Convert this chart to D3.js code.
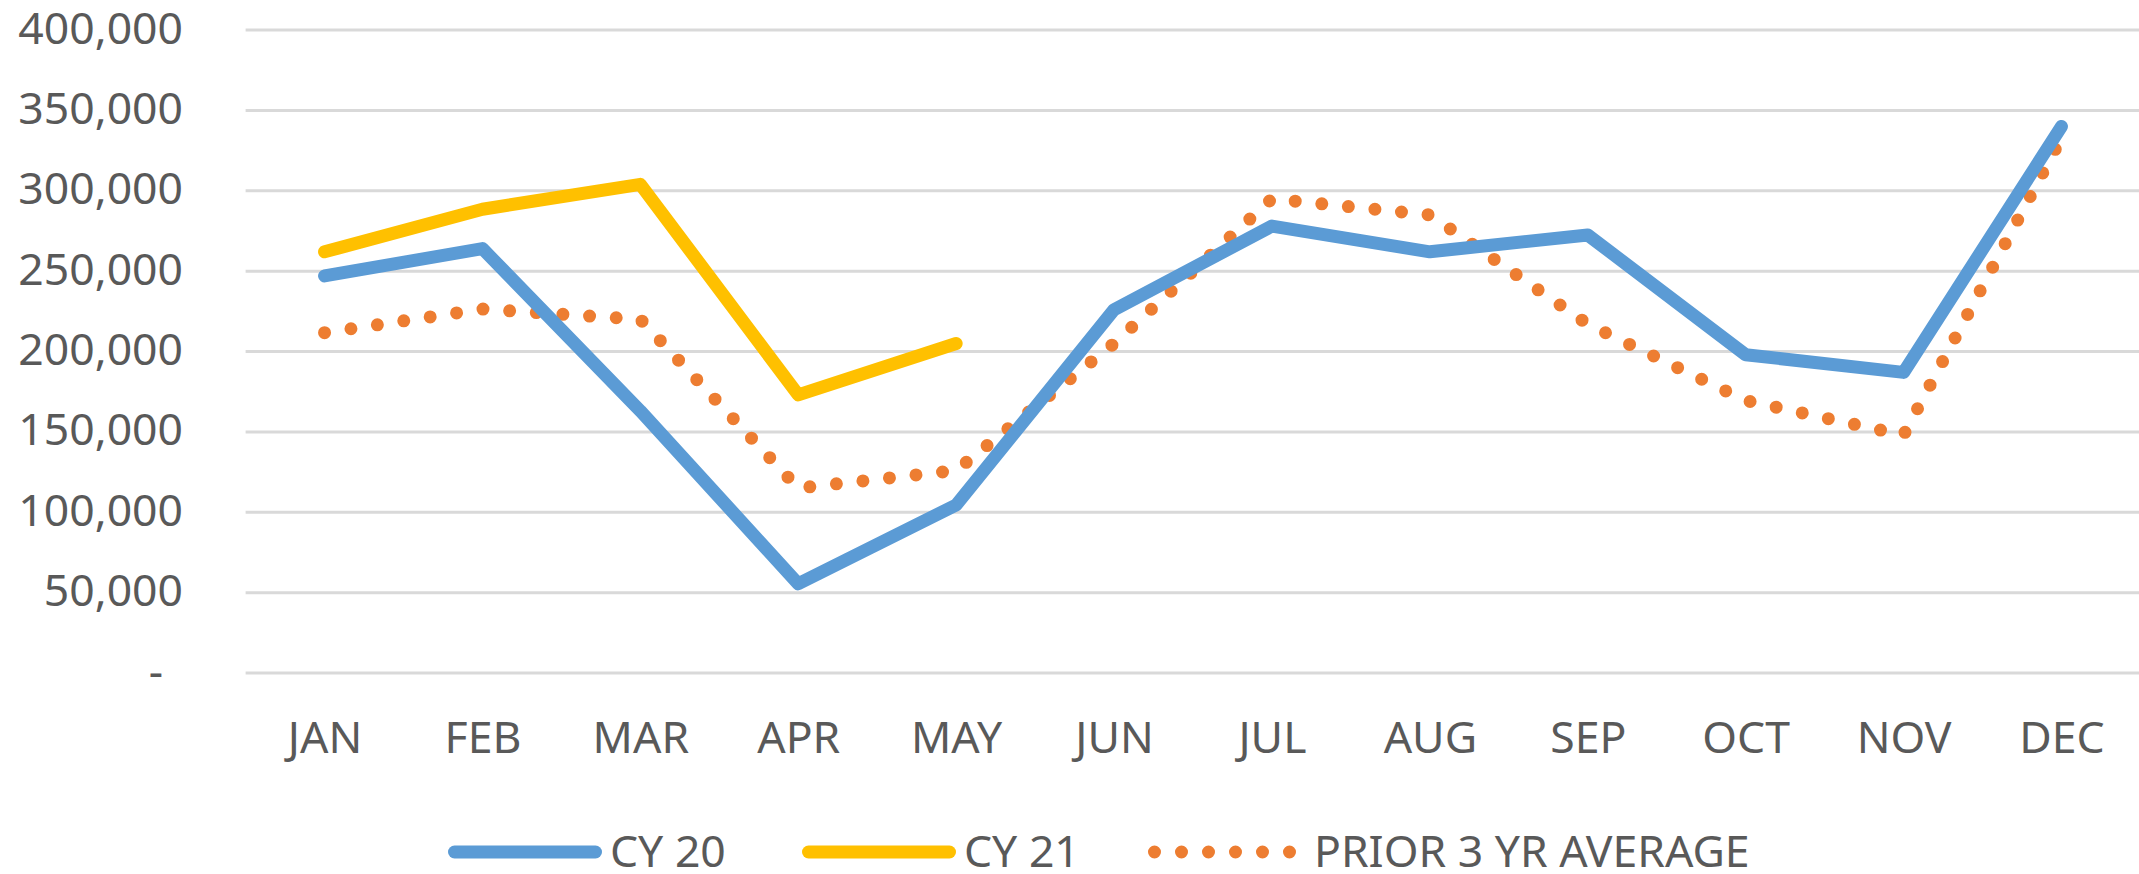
<!DOCTYPE html>
<html>
<head>
<meta charset="utf-8">
<script src="https://cdn.jsdelivr.net/npm/d3@7"></script>
<style>
  body { margin: 0; background: #fff; }
  text { font-family: "Noto Sans", "Liberation Sans", Arial, sans-serif; fill: #595959; }
</style>
</head>
<body>
<script>
// chart data
var months = ["JAN", "FEB", "MAR", "APR", "MAY", "JUN", "JUL", "AUG", "SEP", "OCT", "NOV", "DEC"];
var cy20 = [247000, 264000, 163000, 55500, 104500, 226000, 278000, 262000, 272500, 198000, 187000, 340000];
var cy21 = [262000, 288500, 304000, 173000, 205000, null, null, null, null, null, null, null];
var prior3 = [211700, 226400, 220000, 115000, 126000, 205000, 295000, 285000, 217000, 169500, 148000, 333000];
var yTicks = [0, 50000, 100000, 150000, 200000, 250000, 300000, 350000, 400000];
var seriesNames = ["CY 20", "CY 21", "PRIOR 3 YR AVERAGE"];

var width = 2139;
var height = 874;

var svg = d3.select("body")
  .append("svg")
  .attr("width", width)
  .attr("height", height);

// plot area
var plotLeft = 245.6;
var plotRight = 2140.4;
var plotTop = 30;
var plotBottom = 673;

var xScale = d3.scalePoint().domain(months).range([plotLeft, plotRight]).padding(0.5);
var yScale = d3.scaleLinear().domain([0, 400000]).range([plotBottom, plotTop]);

// gridlines
svg.append("g")
  .attr("class", "grid")
  .selectAll("line")
  .data(yTicks)
  .enter().append("line")
  .attr("x1", plotLeft)
  .attr("x2", width)
  .attr("y1", function(d) { return yScale(d); })
  .attr("y2", function(d) { return yScale(d); })
  .style("stroke", "#d9d9d9")
  .style("stroke-width", 3);

// y axis labels
var fmt = d3.format(",");
var yAxis = d3.axisLeft(yScale)
  .tickValues(yTicks)
  .tickSize(0)
  .tickPadding(0)
  .tickFormat(function(d) { return d === 0 ? "-" : fmt(d); });

var yg = svg.append("g")
  .attr("transform", "translate(183,0)")
  .call(yAxis);
yg.select(".domain").remove();
yg.selectAll("text")
  .attr("x", function(d) { return d === 0 ? -20 : 0; })
  .attr("dy", 13)
  .style("font-size", "44.5px")
  .style("font-family", "'Noto Sans', 'Liberation Sans', Arial, sans-serif")
  .style("fill", "#595959");

// x axis labels
var xAxis = d3.axisBottom(xScale).tickSize(0).tickPadding(0);
var xg = svg.append("g")
  .attr("transform", "translate(0,753)")
  .call(xAxis);
xg.select(".domain").remove();
xg.selectAll("text")
  .attr("y", 0)
  .attr("dy", 0)
  .style("font-size", "44.5px")
  .style("font-family", "'Noto Sans', 'Liberation Sans', Arial, sans-serif")
  .style("fill", "#595959");

// lines
function makeLine(values) {
  return d3.line()
    .defined(function(d) { return d != null; })
    .x(function(d, i) { return xScale(months[i]); })
    .y(function(d) { return yScale(d); })(values);
}

svg.append("path")
  .attr("d", makeLine(prior3))
  .style("fill", "none")
  .style("stroke", "#ED7D31")
  .style("stroke-width", 13)
  .style("stroke-linecap", "round")
  .style("stroke-dasharray", "0 26.7");

svg.append("path")
  .attr("d", makeLine(cy20))
  .style("fill", "none")
  .style("stroke", "#5B9BD5")
  .style("stroke-width", 13)
  .style("stroke-linecap", "round")
  .style("stroke-linejoin", "round");

svg.append("path")
  .attr("d", makeLine(cy21))
  .style("fill", "none")
  .style("stroke", "#FFC000")
  .style("stroke-width", 13)
  .style("stroke-linecap", "round")
  .style("stroke-linejoin", "round");

// legend
var legendColors = ["#5B9BD5", "#FFC000", "#ED7D31"];
var legendX = [448, 802, 1148];
var legend = svg.append("g").attr("class", "legend");

seriesNames.forEach(function(name, i) {
  var g = legend.append("g").attr("transform", "translate(" + legendX[i] + ",852)");
  var ln = g.append("line")
    .attr("x1", 6.5)
    .attr("x2", i === 2 ? 141.6 : 147.5)
    .attr("y1", 0)
    .attr("y2", 0)
    .style("stroke", legendColors[i])
    .style("stroke-width", 13)
    .style("stroke-linecap", "round");
  if (i === 2) ln.style("stroke-dasharray", "0 27");
  g.append("text")
    .attr("x", i === 2 ? 166 : 162)
    .attr("y", 15)
    .style("font-size", "44.5px")
    .text(name);
});
</script>
</body>
</html>
